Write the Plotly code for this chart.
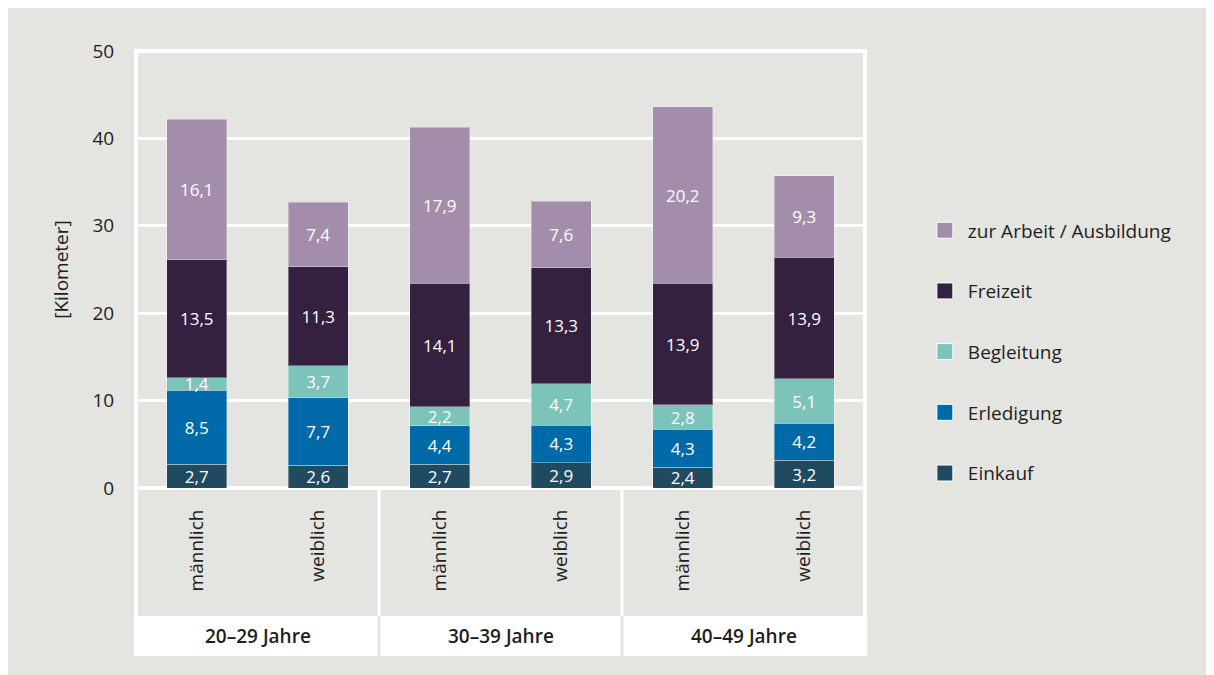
import plotly.graph_objects as go

groups = ["20–29 Jahre", "30–39 Jahre", "40–49 Jahre"]
sexes = ["männlich", "weiblich"]
categories = [f"{g} {s}" for g in groups for s in sexes]
tick_labels = [s for g in groups for s in sexes]

einkauf = [2.7, 2.6, 2.7, 2.9, 2.4, 3.2]
erledigung = [8.5, 7.7, 4.4, 4.3, 4.3, 4.2]
begleitung = [1.4, 3.7, 2.2, 4.7, 2.8, 5.1]
freizeit = [13.5, 11.3, 14.1, 13.3, 13.9, 13.9]
arbeit = [16.1, 7.4, 17.9, 7.6, 20.2, 9.3]

series = [
    ("Einkauf", einkauf, "#1f4a60"),
    ("Erledigung", erledigung, "#0069a8"),
    ("Begleitung", begleitung, "#7cc3b9"),
    ("Freizeit", freizeit, "#33213f"),
    ("zur Arbeit / Ausbildung", arbeit, "#a48dab"),
]

BG = "#e4e4e0"
TXT = "#1e1e1e"
FONT = "Open Sans"
FS = 19

fig = go.Figure()
for name, vals, col in series:
    fig.add_trace(go.Bar(
        x=categories, y=vals, name=name, showlegend=False,
        marker=dict(color=col, line=dict(color="rgba(255,255,255,0.35)", width=1)),
        texttemplate="%{y:.1f}", textposition="inside", insidetextanchor="middle",
        textangle=0, textfont=dict(color="white", size=17, family=FONT),
        hoverinfo="skip",
    ))
# legend entries (top to bottom: zur Arbeit ... Einkauf)
for name, vals, col in reversed(series):
    fig.add_trace(go.Scatter(
        x=[None], y=[None], mode="markers", name=name, legendgroup=name,
        marker=dict(symbol="square", size=16, color=col, line=dict(color="white", width=1)),
    ))

shapes = []
W = 4
# bottom white label row
shapes.append(dict(type="rect", xref="paper", yref="paper", x0=-0.003, x1=1.003, y0=-0.3844, y1=-0.2929,
                   fillcolor="white", line=dict(width=0)))
# plot borders
shapes.append(dict(type="line", xref="paper", yref="paper", x0=0, x1=0, y0=-0.3844, y1=1.003,
                   line=dict(color="white", width=W)))
shapes.append(dict(type="line", xref="paper", yref="paper", x0=1, x1=1, y0=-0.3844, y1=1.003,
                   line=dict(color="white", width=W)))
shapes.append(dict(type="line", xref="paper", yref="paper", x0=-0.003, x1=1.003, y0=1, y1=1,
                   line=dict(color="white", width=W)))
# group separators
for xs in [1.5, 3.5]:
    shapes.append(dict(type="line", xref="x", yref="paper", x0=xs, x1=xs, y0=-0.2929, y1=0,
                       line=dict(color="white", width=3)))
    shapes.append(dict(type="line", xref="x", yref="paper", x0=xs, x1=xs, y0=-0.3844, y1=-0.2929,
                       line=dict(color=BG, width=3)))

annotations = []
for gi, g in enumerate(groups):
    annotations.append(dict(x=gi * 2 + 0.5, y=-0.339, xref="x", yref="paper", text=g,
                            showarrow=False, font=dict(size=FS, color=TXT, family=FONT, weight=600),
                            xanchor="center", yanchor="middle"))

fig.update_layout(
    width=1214, height=675,
    margin=dict(l=128, r=357, t=43, b=195),
    paper_bgcolor=BG, plot_bgcolor=BG,
    barmode="stack", bargap=0.505,
    separators=",.",
    font=dict(family=FONT, size=FS, color=TXT),
    uniformtext=dict(minsize=17, mode="show"),
    shapes=shapes, annotations=annotations,
    legend=dict(x=1.078, y=0.633, xanchor="left", yanchor="top",
                traceorder="grouped", tracegroupgap=33, itemwidth=36,
                font=dict(size=FS, color=TXT, family=FONT), bgcolor="rgba(0,0,0,0)"),
    xaxis=dict(tickvals=categories, ticktext=tick_labels, tickangle=-90,
               ticks="outside", ticklen=13, tickcolor="rgba(0,0,0,0)",
               showgrid=False, showline=False, zeroline=False,
               tickfont=dict(size=FS, color=TXT, family=FONT)),
    yaxis=dict(range=[0, 50], dtick=10, showgrid=True, gridcolor="white", gridwidth=3,
               zeroline=True, zerolinecolor="white", zerolinewidth=4, showline=False,
               ticks="outside", ticklen=17, tickcolor="rgba(0,0,0,0)",
               tickfont=dict(size=FS, color=TXT, family=FONT),
               title=dict(text="[Kilometer]", standoff=18, font=dict(size=FS, color=TXT, family=FONT))),
)

fig.write_html("out.html")
